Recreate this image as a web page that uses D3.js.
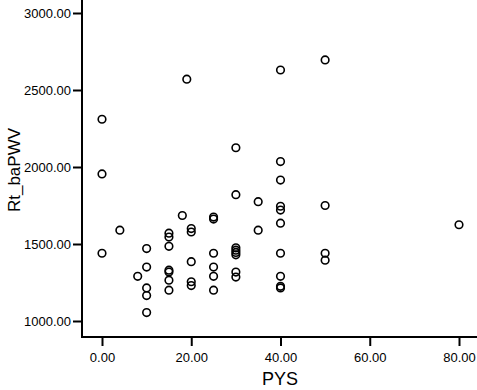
<!DOCTYPE html>
<html><head><meta charset="utf-8">
<script src="https://cdn.jsdelivr.net/npm/d3@7"></script>
<style>body{margin:0;background:#fff}svg{display:block}text{font-family:"Liberation Sans",Arial,sans-serif}</style>
</head><body>
<script>
const pys = [0,0,0,4,8,10,10,10,10,10,15,15,15,15,15,15,15,18,19,20,20,20,20,20,25,25,25,25,25,25,30,30,30,30,30,30,30,30,35,35,40,40,40,40,40,40,40,40,40,40,50,50,50,50,80];
const rtBaPWV = [2310,1955,1440,1590,1290,1470,1350,1215,1165,1055,1570,1545,1485,1330,1318,1265,1200,1685,2570,1600,1578,1385,1255,1230,1675,1662,1440,1350,1290,1200,2125,1820,1475,1460,1445,1430,1318,1285,1775,1590,2630,2035,1915,1745,1720,1635,1440,1290,1225,1215,2695,1750,1440,1395,1625];
const xTicks = [0,20,40,60,80];
const yTicks = [1000,1500,2000,2500,3000];
const xLabel = "PYS", yLabel = "Rt_baPWV";

const W=477,H=390;
const svg=d3.select("body").append("svg").attr("width",W).attr("height",H);
const x=d3.scaleLinear().domain([0,80]).range([102,459]);
const y=d3.scaleLinear().domain([1000,3000]).range([321,13]);
const x0=82,y0=337;

// axes
const xa=svg.append("g").attr("transform",`translate(0,${y0})`)
  .call(d3.axisBottom(x).tickValues(xTicks).tickFormat(d3.format(".2f")).tickSize(9).tickSizeOuter(0));
xa.select(".domain").remove();
xa.append("line").attr("x1",x0).attr("x2",W).attr("stroke","#000").attr("stroke-width",2);
xa.selectAll(".tick line").attr("stroke","#000").attr("stroke-width",2);
xa.selectAll(".tick text").attr("fill","#000").attr("font-size",13).attr("dy","1em");

const ya=svg.append("g").attr("transform",`translate(${x0},0)`)
  .call(d3.axisLeft(y).tickValues(yTicks).tickFormat(d3.format(".2f")).tickSize(9).tickSizeOuter(0));
ya.select(".domain").remove();
ya.append("line").attr("y1",0).attr("y2",y0+1).attr("stroke","#000").attr("stroke-width",2);
ya.selectAll(".tick line").attr("stroke","#000").attr("stroke-width",2);
ya.selectAll(".tick text").attr("fill","#000").attr("font-size",13).attr("x",-11);

svg.append("text").attr("x",280).attr("y",385).attr("text-anchor","middle").attr("font-size",18).text(xLabel);
svg.append("text").attr("transform","translate(20,170) rotate(-90)").attr("text-anchor","middle").attr("font-size",17).text(yLabel);

svg.append("g").selectAll("circle").data(pys.map((p,i)=>[p,rtBaPWV[i]])).join("circle")
  .attr("cx",d=>x(d[0])).attr("cy",d=>y(d[1])).attr("r",3.8)
  .attr("fill","none").attr("stroke","#000").attr("stroke-width",1.6);
</script>
</body></html>
